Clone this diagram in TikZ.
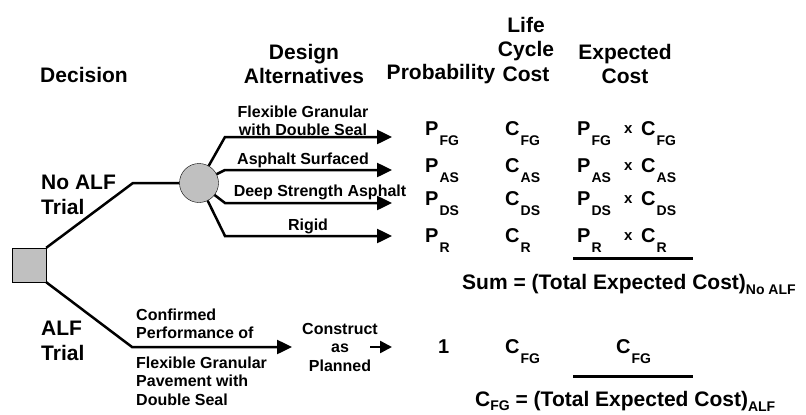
\documentclass[tikz,border=0pt]{standalone}
\usepackage{fontspec}
\setmainfont{Liberation Sans}
\usepackage{tikz}
\usetikzlibrary{arrows.meta, positioning}

\definecolor{nodegray}{RGB}{192,192,192}

% subscript set low, as in the tree
\newcommand{\lowsub}[2]{#1\kern1pt\raisebox{-10pt}{\fontsize{14}{14}\selectfont #2}}
\newcommand{\totsub}[2]{#1\raisebox{-5pt}{\fontsize{14}{14}\selectfont #2}}

\begin{document}
\begin{tikzpicture}[x=1pt, y=-1pt, >={Triangle[length=15pt, width=14pt]},
  hdr/.style={font=\fontsize{21}{24.5}\selectfont\bfseries, align=center, inner sep=0pt},
  side/.style={font=\fontsize{21}{24.5}\selectfont\bfseries, align=left, anchor=west, inner sep=0pt},
  brlbl/.style={font=\fontsize{16}{17.5}\selectfont\bfseries, align=center, inner sep=0pt},
  val/.style={font=\fontsize{20}{22}\selectfont\bfseries, anchor=base west, inner sep=0pt},
  branch/.style={line width=2.5pt, ->},
  edge/.style={line width=2.5pt},
  sumline/.style={line width=3pt}]
  \useasboundingbox (0,0) rectangle (806,415);

  % column headers
  \node[hdr] (decision) at (84,75) {Decision};
  \node[hdr] (design) at (304,64) {Design\\Alternatives};
  \node[hdr] (prob) at (441,74) {Probability};
  \node[hdr] (lcc) at (526,49) {Life\\Cycle\\Cost};
  \node[hdr] (expcost) at (625,64) {Expected\\Cost};

  % decision and chance nodes
  \node[draw, fill=nodegray, minimum size=34pt, inner sep=0pt] (dec) at (29,265) {};
  \node[draw, circle, fill=nodegray, minimum size=39pt, inner sep=0pt] (chance) at (199,183) {};
  \coordinate (noalf) at (133,183);
  \coordinate (alf) at (132,347);
  \coordinate (alfend) at (292,347);

  \draw[edge] (dec.north east) -- (noalf) -- (chance);
  \draw[branch] (dec.south east) -- (alf) -- (alfend);

  \node[side] (noalflbl) at (41,195) {No ALF\\Trial};
  \node[side] (alflbl) at (41,341) {ALF\\Trial};

  % design alternatives
  \foreach \n/\y in {FG/137, AS/170, DS/203, R/236} {
    \coordinate (bend\n) at (225,\y);
    \coordinate (tip\n) at (392,\y);
    \draw[branch] (chance) -- (bend\n) -- (tip\n);
  }
  \node[brlbl] (lblFG) at (303,121) {Flexible Granular\\with Double Seal};
  \node[brlbl] (lblAS) at (303,160) {Asphalt Surfaced};
  \node[brlbl] (lblDS) at (320,192) {Deep Strength Asphalt};
  \node[brlbl] (lblR) at (308,226) {Rigid};

  % probabilities and costs
  \foreach \n/\y in {FG/135, AS/172, DS/205, R/242} {
    \node[val] (p\n) at (425,\y) {\lowsub{P}{\n}};
    \node[val] (c\n) at (505,\y) {\lowsub{C}{\n}};
    \node[val] (ep\n) at (577,\y) {\lowsub{P}{\n}};
    \node[val] (x\n) at (624,\y-2) {\fontsize{15}{15}\selectfont x};
    \node[val] (ec\n) at (641,\y) {\lowsub{C}{\n}};
  }
  \draw[sumline] (573,258) -- (693,258);
  \node[val, font=\fontsize{21}{24}\selectfont\bfseries] (sumnoalf) at (462,289)
    {Sum = \totsub{(Total Expected Cost)}{No ALF}};

  % ALF trial branch
  \node[brlbl, align=left, anchor=west] (confirmed) at (136,324) {Confirmed\\Performance of};
  \node[brlbl, align=left, anchor=west, font=\fontsize{16}{18.5}\selectfont\bfseries] (pavement) at (136,381)
    {Flexible Granular\\Pavement with\\Double Seal};
  \node[brlbl, font=\fontsize{16}{18.5}\selectfont\bfseries] (construct) at (340,347) {Construct\\as\\Planned};
  \coordinate (consA) at (370,347);
  \coordinate (consB) at (392,347);
  \draw[line width=2.5pt, -{Triangle[length=12pt, width=12pt]}] (consA) -- (consB);

  \node[val] (one) at (438,353) {1};
  \node[val] (calf) at (505,353) {\lowsub{C}{FG}};
  \node[val] (ecalf) at (616,353) {\lowsub{C}{FG}};
  \draw[sumline] (573,376) -- (693,376);
  \node[val, font=\fontsize{21}{24}\selectfont\bfseries] (sumalf) at (475,406)
    {C\raisebox{-4pt}{\fontsize{14}{14}\selectfont FG} = \totsub{(Total Expected Cost)}{ALF}};
\end{tikzpicture}
\end{document}
